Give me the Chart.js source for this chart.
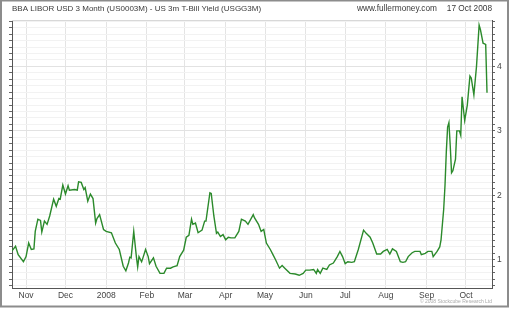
<!DOCTYPE html>
<html>
<head>
<meta charset="utf-8">
<script src="https://cdn.jsdelivr.net/npm/chart.js@4/dist/chart.umd.min.js"></script>
<style>
  body { margin: 0; background: #fff; }
  canvas { display: block; }
</style>
</head>
<body>
<canvas id="chartSpread" width="510" height="309"></canvas>
<script>
// days counted from 1 Nov 2007
const days = [-11, -8, -6, -2, 0, 2, 4, 6, 7, 9, 11, 12, 14, 16, 18, 21, 23, 25, 26, 28, 30, 32, 33, 37, 39, 40, 42, 44, 45, 47, 49, 51, 53, 54, 56, 59, 61, 65, 68, 71, 74, 76, 78, 79, 80, 82, 84, 85, 86, 88, 89, 91, 93, 94, 97, 99, 102, 105, 107, 110, 112, 115, 117, 120, 122, 124, 126, 127, 129, 131, 134, 136, 137, 140, 141, 143, 145, 146, 148, 150, 152, 154, 156, 159, 162, 164, 167, 169, 173, 174, 177, 179, 181, 183, 186, 188, 190, 193, 195, 197, 201, 205, 208, 211, 213, 216, 219, 221, 222, 224, 226, 229, 231, 234, 237, 239, 241, 243, 245, 248, 250, 253, 257, 259, 262, 264, 267, 270, 272, 275, 277, 279, 282, 285, 287, 289, 291, 294, 296, 300, 301, 304, 306, 309, 310, 313, 315, 316, 318, 319, 320, 321, 322, 323, 324, 325, 327, 328, 330, 331, 332, 334, 336, 338, 339, 341, 343, 345, 346, 348, 350, 351];
const spread = [1.13, 1.21, 1.08, 0.97, 1.05, 1.26, 1.16, 1.17, 1.44, 1.63, 1.61, 1.43, 1.6, 1.55, 1.68, 1.94, 1.83, 1.95, 1.94, 2.16, 2.02, 2.15, 2.08, 2.09, 2.08, 2.21, 2.2, 2.09, 2.12, 1.91, 2.02, 1.95, 1.57, 1.64, 1.7, 1.47, 1.44, 1.42, 1.26, 1.16, 0.9, 0.83, 0.95, 1.04, 1.03, 1.44, 1.05, 0.89, 1.05, 0.97, 1.03, 1.16, 1.05, 0.94, 1.03, 0.9, 0.79, 0.79, 0.87, 0.87, 0.89, 0.91, 1.05, 1.15, 1.35, 1.38, 1.63, 1.55, 1.57, 1.42, 1.46, 1.6, 1.6, 2.04, 2.03, 1.68, 1.41, 1.43, 1.36, 1.39, 1.31, 1.35, 1.34, 1.34, 1.44, 1.63, 1.6, 1.55, 1.7, 1.65, 1.55, 1.44, 1.47, 1.26, 1.16, 1.08, 1.0, 0.87, 0.91, 0.87, 0.79, 0.78, 0.76, 0.79, 0.84, 0.84, 0.85, 0.79, 0.85, 0.79, 0.87, 0.85, 0.92, 0.95, 1.05, 1.13, 1.05, 0.94, 0.97, 0.96, 0.97, 1.16, 1.46, 1.41, 1.35, 1.26, 1.09, 1.09, 1.13, 1.16, 1.09, 1.17, 1.13, 0.97, 0.96, 0.97, 1.05, 1.11, 1.13, 1.13, 1.08, 1.1, 1.13, 1.13, 1.05, 1.13, 1.2, 1.31, 1.78, 2.15, 2.67, 3.06, 3.13, 2.77, 2.35, 2.38, 2.56, 3.0, 3.0, 2.93, 3.53, 3.16, 3.4, 3.85, 3.82, 3.56, 4.0, 4.64, 4.57, 4.36, 4.34, 3.59];

const monthDays = [0, 30, 61, 92, 121, 152, 182, 213, 243, 274, 305, 335];
const monthLabels = ['Nov', 'Dec', '2008', 'Feb', 'Mar', 'Apr', 'May', 'Jun', 'Jul', 'Aug', 'Sep', 'Oct'];
const yLabels = [1, 2, 3, 4];

const yMin = 0.5625, yMax = 4.72;
const minorTicks = [];
for (let t = 6; t <= 47; t++) minorTicks.push({ value: t / 10 });

const isWhole = v => Math.abs(v - Math.round(v)) < 1e-6;
const fontFamily = '"Liberation Sans", Arial, sans-serif';

const frame = {
    id: 'frame',
    beforeDraw(chart) {
        const ctx = chart.ctx;
        ctx.save();
        ctx.fillStyle = '#fff';
        ctx.fillRect(0, 0, chart.width, chart.height);
        ctx.restore();
    },
    afterDraw(chart) {
        const ctx = chart.ctx;
        const a = chart.chartArea;
        ctx.save();
        ctx.strokeStyle = '#d8d8d8';
        ctx.lineWidth = 1;
        ctx.beginPath();
        ctx.moveTo(a.left, a.top + 0.5);
        ctx.lineTo(a.right, a.top + 0.5);
        ctx.stroke();

        ctx.font = '8px ' + fontFamily;
        ctx.fillStyle = '#3a3a3a';
        ctx.textBaseline = 'middle';
        ctx.textAlign = 'left';
        ctx.fillText('BBA LIBOR USD 3 Month (US0003M) - US 3m T-Bill Yield (USGG3M)', 12, 9);
        ctx.textAlign = 'right';
        ctx.font = '8.3px ' + fontFamily;
        ctx.fillText('www.fullermoney.com', 437, 9);
        ctx.fillText('17 Oct 2008', 492, 9);

        ctx.font = '5px ' + fontFamily;
        ctx.fillStyle = '#aaa';
        ctx.fillText('\u00a9 2008 Stockcube Research Ltd', 492, 302);

        ctx.strokeStyle = '#8c8c8c';
        ctx.lineWidth = 2;
        ctx.strokeRect(1, 0.5, 507, 306);
        ctx.restore();
    }
};

new Chart(document.getElementById('chartSpread').getContext('2d'), {
    type: 'line',
    data: {
        datasets: [{
            data: days.map((d, i) => ({ x: d, y: spread[i] })),
            borderColor: '#2b8a2b',
            borderWidth: 1.4,
            pointRadius: 0,
            tension: 0,
            fill: false
        }]
    },
    options: {
        responsive: false,
        animation: false,
        layout: {
            padding: { left: 2, right: 0, top: 20, bottom: 4 }
        },
        plugins: {
            legend: { display: false },
            tooltip: { enabled: false }
        },
        scales: {
            x: {
                type: 'linear',
                min: -10.7,
                max: 354.8,
                afterBuildTicks: scale => {
                    scale.ticks = monthDays.map(v => ({ value: v }));
                },
                afterFit: scale => { scale.height = 17; },
                ticks: {
                    autoSkip: false,
                    maxRotation: 0,
                    padding: 3,
                    color: '#444',
                    font: { family: fontFamily, size: 8.5 },
                    callback: (value, index) => monthLabels[index]
                },
                grid: {
                    color: '#e4e4e4',
                    drawTicks: false
                },
                border: { color: '#555', width: 1 }
            },
            y: {
                position: 'right',
                min: yMin,
                max: yMax,
                afterBuildTicks: scale => {
                    scale.ticks = minorTicks.map(t => ({ value: t.value }));
                },
                afterFit: scale => { scale.width = 18; },
                ticks: {
                    autoSkip: false,
                    padding: 2,
                    color: '#444',
                    font: { family: fontFamily, size: 8.5 },
                    callback: value => (isWhole(value) && yLabels.includes(Math.round(value))) ? String(Math.round(value)) : ''
                },
                grid: {
                    color: ctx => isWhole(ctx.tick.value) ? '#e2e2e2' : '#f2f2f2',
                    tickColor: '#666',
                    tickLength: 3
                },
                border: { color: '#555', width: 1 }
            },
            yLeft: {
                position: 'left',
                min: yMin,
                max: yMax,
                afterBuildTicks: scale => {
                    scale.ticks = minorTicks.map(t => ({ value: t.value }));
                },
                afterFit: scale => { scale.width = 10; },
                ticks: { display: false },
                grid: {
                    drawOnChartArea: false,
                    tickColor: '#666',
                    tickLength: 3
                },
                border: { color: '#555', width: 1 }
            }
        }
    },
    plugins: [frame]
});
</script>
</body>
</html>
